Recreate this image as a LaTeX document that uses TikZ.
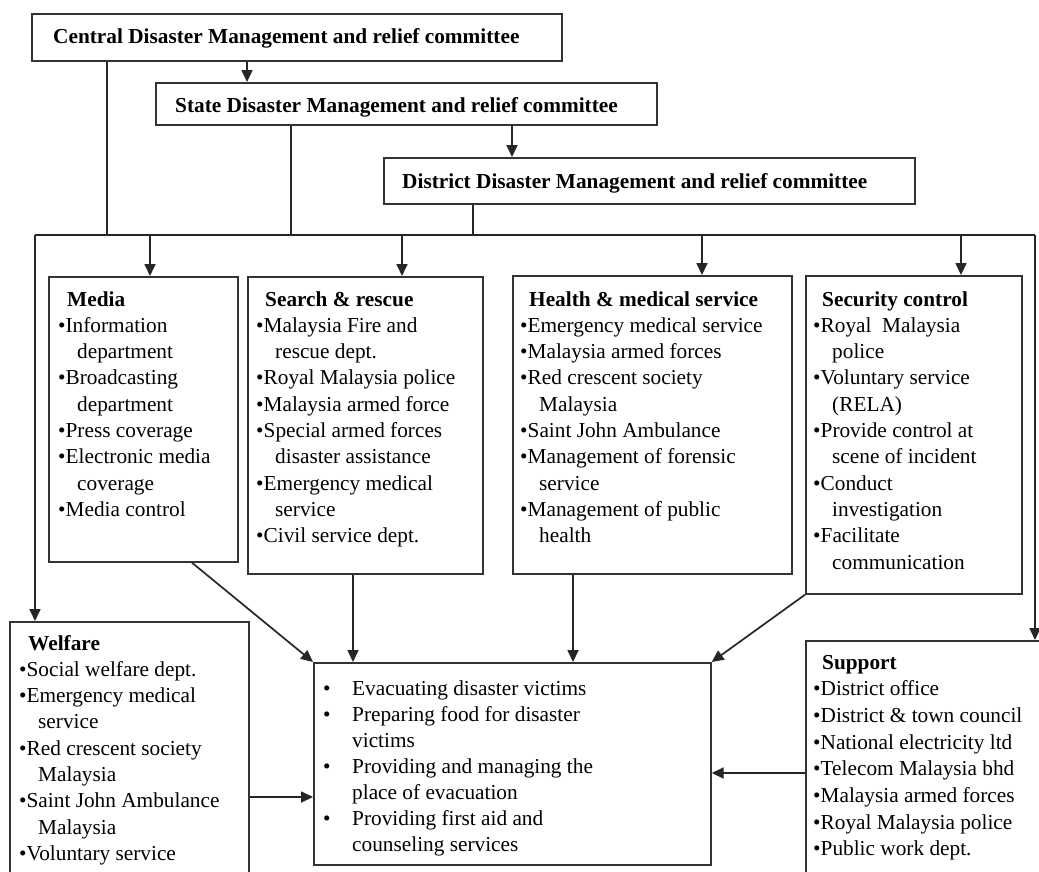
\documentclass[tikz,border=0pt]{standalone}
\usepackage{fontspec}
\setmainfont{Liberation Serif}
\usetikzlibrary{arrows.meta,calc}
\newcommand{\Xttl}[1]{\hspace*{9pt}\textbf{#1}}
\newcommand{\Xbul}{\textbullet}
\newcommand{\Xcnt}{\hspace*{19pt}}
\newcommand{\Xcb}{\makebox[29pt][l]{\textbullet}}
\begin{document}
\begin{tikzpicture}[x=1pt,y=-1pt,
  box/.style={draw=black!80,line width=1.7pt,inner sep=0pt,anchor=north west},
  ln/.style={draw=black!85,line width=1.7pt},
  arr/.style={ln,-{Triangle[length=12pt,width=11pt]}},
  txt/.style={inner sep=0pt,anchor=base west,text=black,font=\fontsize{21.3}{26.3}\selectfont}]
\useasboundingbox (0,0) rectangle (1039,871);
\clip (0,0) rectangle (1039,871);
\fill[white] (0,0) rectangle (1039,871);

% boxes
\node[box,minimum width=530pt,minimum height=47pt] (central) at (31,13) {};
\node[box,minimum width=501pt,minimum height=42pt] (state) at (155,82) {};
\node[box,minimum width=531pt,minimum height=46pt] (district) at (383,157) {};
\node[box,minimum width=189pt,minimum height=285pt] (media) at (48,276) {};
\node[box,minimum width=235pt,minimum height=297pt] (search) at (247,276) {};
\node[box,minimum width=279pt,minimum height=298pt] (health) at (512,275) {};
\node[box,minimum width=216pt,minimum height=318pt] (security) at (805,275) {};
\node[box,minimum width=239pt,minimum height=270pt] (welfare) at (9,621) {};
\node[box,minimum width=397pt,minimum height=202pt] (center) at (313,662) {};
\node[box,minimum width=250pt,minimum height=250pt] (support) at (805,640) {};

% helper coordinates
\coordinate (a1) at (247,0);
\coordinate (a2) at (512,0);
\coordinate (c1) at (107,0);
\coordinate (c2) at (291,0);
\coordinate (c3) at (473,0);
\coordinate (busL) at (35,235);
\coordinate (busR) at (1035,235);
\coordinate (d1) at (150,0);
\coordinate (d2) at (402,0);
\coordinate (d3) at (702,0);
\coordinate (d4) at (961,0);
\coordinate (m1) at (192,0);
\coordinate (s1) at (353,0);
\coordinate (h1) at (573,0);
\coordinate (w1) at (0,797);
\coordinate (p1) at (0,773);

% connectors
\draw[arr] (central.south -| a1) -- (state.north -| a1);
\draw[arr] (state.south -| a2) -- (district.north -| a2);
\draw[ln] (central.south -| c1) -- (busL -| c1);
\draw[ln] (state.south -| c2) -- (busL -| c2);
\draw[ln] (district.south -| c3) -- (busL -| c3);
\draw[ln] (busL) -- (busR);
\draw[arr] (busL) -- (welfare.north -| busL);
\draw[arr] (busR) -- (support.north -| busR);
\draw[arr] (busL -| d1) -- (media.north -| d1);
\draw[arr] (busL -| d2) -- (search.north -| d2);
\draw[arr] (busL -| d3) -- (health.north -| d3);
\draw[arr] (busL -| d4) -- (security.north -| d4);
\draw[arr] (media.south -| m1) -- (center.north west);
\draw[arr] (search.south -| s1) -- (center.north -| s1);
\draw[arr] (health.south -| h1) -- (center.north -| h1);
\draw[arr] (security.south west) -- (center.north east);
\draw[arr] (welfare.east |- w1) -- (center.west |- w1);
\draw[arr] (support.west |- p1) -- (center.east |- p1);

% texts
\node[txt] (centralT) at (53,43) {\textbf{Central Disaster Management and relief committee}};
\node[txt] (stateT) at (175,112) {\textbf{State Disaster Management and relief committee}};
\node[txt] (districtT) at (402,188) {\textbf{District Disaster Management and relief committee}};

\node[txt] (mediaT) at (58,306) {\parbox[t]{300pt}{\Xttl{Media}\\
\Xbul Information\\ \Xcnt department\\
\Xbul Broadcasting\\ \Xcnt department\\
\Xbul Press coverage\\
\Xbul Electronic media\\ \Xcnt coverage\\
\Xbul Media control}};

\node[txt] (searchT) at (256,306) {\parbox[t]{300pt}{\Xttl{Search \& rescue}\\
\Xbul Malaysia Fire and\\ \Xcnt rescue dept.\\
\Xbul Royal Malaysia police\\
\Xbul Malaysia armed force\\
\Xbul Special armed forces\\ \Xcnt disaster assistance\\
\Xbul Emergency medical\\ \Xcnt service\\
\Xbul Civil service dept.}};

\node[txt] (healthT) at (520,306) {\parbox[t]{300pt}{\Xttl{Health \& medical service}\\
\Xbul Emergency medical service\\
\Xbul Malaysia armed forces\\
\Xbul Red crescent society\\ \Xcnt Malaysia\\
\Xbul Saint John Ambulance\\
\Xbul Management of forensic\\ \Xcnt service\\
\Xbul Management of public\\ \Xcnt health}};

\node[txt] (securityT) at (813,306) {\parbox[t]{300pt}{\Xttl{Security control}\\
\Xbul Royal\ \ Malaysia\\ \Xcnt police\\
\Xbul Voluntary service\\ \Xcnt (RELA)\\
\Xbul Provide control at\\ \Xcnt scene of incident\\
\Xbul Conduct\\ \Xcnt investigation\\
\Xbul Facilitate\\ \Xcnt communication}};

\node[txt] (welfareT) at (19,650) {\parbox[t]{300pt}{\Xttl{Welfare}\\
\Xbul Social welfare dept.\\
\Xbul Emergency medical\\ \Xcnt service\\
\Xbul Red crescent society\\ \Xcnt Malaysia\\
\Xbul Saint John Ambulance\\ \Xcnt Malaysia\\
\Xbul Voluntary service}};

\node[txt,font=\fontsize{21.3}{26}\selectfont] (centerT) at (323,695) {\parbox[t]{380pt}{\Xcb Evacuating disaster victims\\
\Xcb Preparing food for disaster\\ \hspace*{29pt}victims\\
\Xcb Providing and managing the\\ \hspace*{29pt}place of evacuation\\
\Xcb Providing first aid and\\ \hspace*{29pt}counseling services}};

\node[txt,font=\fontsize{21.3}{26.7}\selectfont] (supportT) at (813,669) {\parbox[t]{300pt}{\Xttl{Support}\\
\Xbul District office\\
\Xbul District \& town council\\
\Xbul National electricity ltd\\
\Xbul Telecom Malaysia bhd\\
\Xbul Malaysia armed forces\\
\Xbul Royal Malaysia police\\
\Xbul Public work dept.}};
\end{tikzpicture}
\end{document}
